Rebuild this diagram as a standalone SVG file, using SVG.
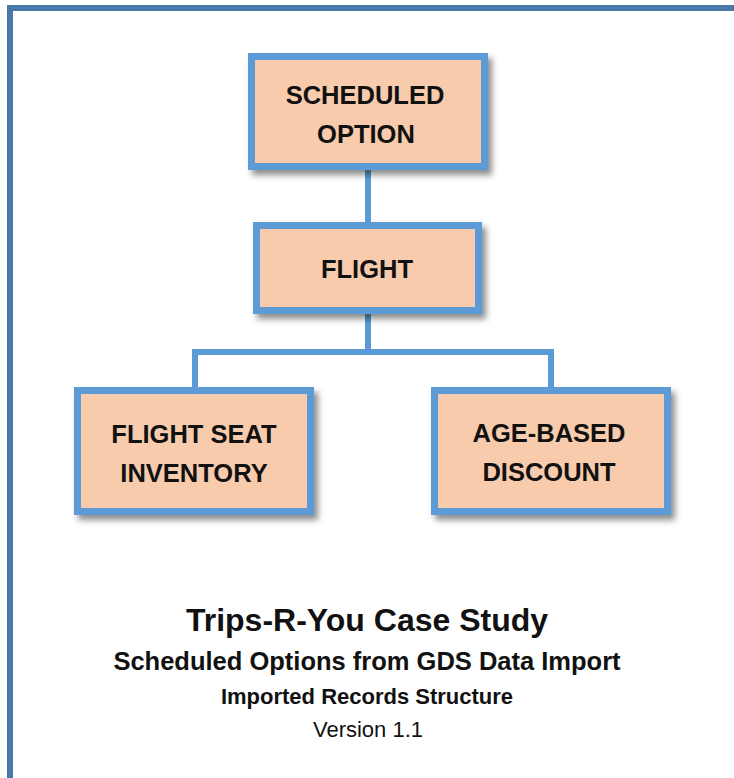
<svg xmlns="http://www.w3.org/2000/svg" width="734" height="778" viewBox="0 0 734 778">
<defs>
<filter id="sh" x="-10%" y="-10%" width="125%" height="130%">
<feDropShadow dx="4" dy="5" stdDeviation="3" flood-color="#000" flood-opacity="0.45"/>
</filter>
</defs>
<style>
.box{fill:#F8CBAD;stroke:#5B9BD5;stroke-width:7;filter:url(#sh)}
.lbl{font-family:"Liberation Sans",Arial,sans-serif;font-weight:bold;font-size:25.5px;fill:#111;text-anchor:middle}
.conn{fill:none;stroke:#5B9BD5;stroke-width:6}
.t{font-family:"Liberation Sans",Arial,sans-serif;fill:#111;text-anchor:middle}
</style>
<rect x="0" y="0" width="734" height="778" fill="#fff"/>
<path d="M10,778 V8 H734" fill="none" stroke="#4A78A8" stroke-width="6"/>
<g id="connectors">
<path class="conn" d="M368,170 V222"/>
<path class="conn" d="M368,314 V352"/>
<path class="conn" d="M195,387 V352 H551 V387"/>
</g>
<g id="scheduled-option">
<rect class="box" x="251.5" y="56.5" width="233" height="110"/>
<text class="lbl" x="365" y="103.5">SCHEDULED</text>
<text class="lbl" x="366" y="143">OPTION</text>
</g>
<g id="flight">
<rect class="box" x="256.5" y="225.5" width="222" height="85"/>
<text class="lbl" x="367" y="278">FLIGHT</text>
</g>
<g id="flight-seat-inventory">
<rect class="box" x="77.5" y="390.5" width="233" height="121"/>
<text class="lbl" x="194" y="443">FLIGHT SEAT</text>
<text class="lbl" x="194" y="482">INVENTORY</text>
</g>
<g id="age-based-discount">
<rect class="box" x="434.5" y="390.5" width="233" height="121"/>
<text class="lbl" x="549" y="442">AGE-BASED</text>
<text class="lbl" x="549" y="481">DISCOUNT</text>
</g>
<g id="title">
<text class="t" x="367" y="631" font-size="32" font-weight="bold">Trips-R-You Case Study</text>
<text class="t" x="367" y="670" font-size="25.5" font-weight="bold">Scheduled Options from GDS Data Import</text>
<text class="t" x="367" y="704" font-size="22" font-weight="bold">Imported Records Structure</text>
<text class="t" x="368" y="736.5" font-size="22">Version 1.1</text>
</g>
</svg>
